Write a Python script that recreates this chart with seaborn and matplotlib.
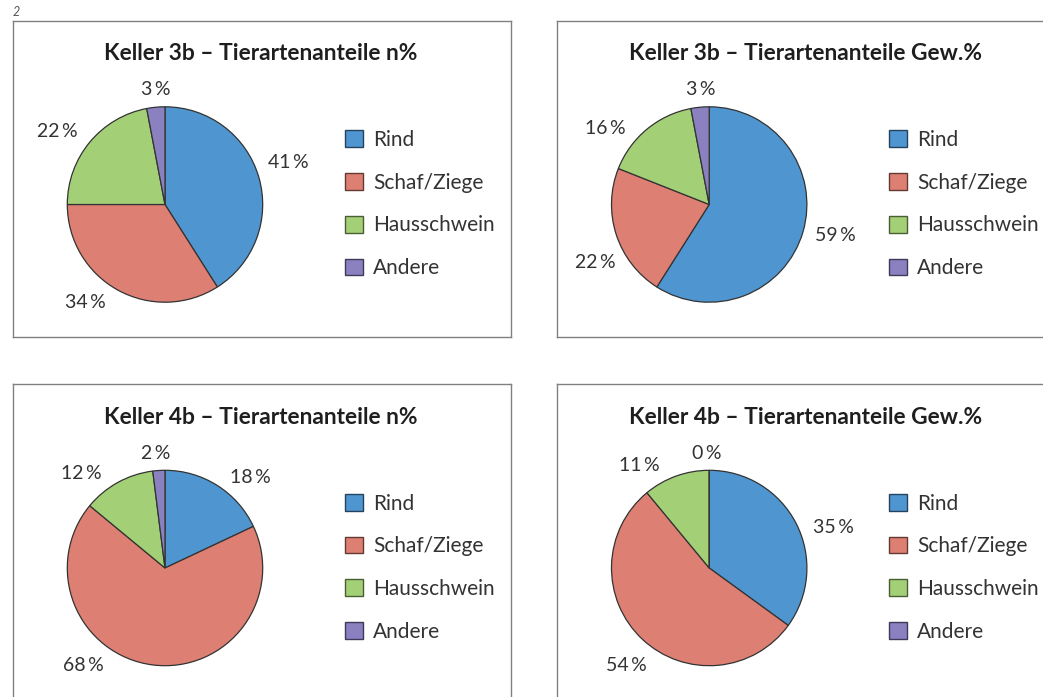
import numpy as np
import matplotlib
matplotlib.use("Agg")
import matplotlib.pyplot as plt
import matplotlib.colors as mcolors
from matplotlib.patches import Patch
import seaborn as sns

# ── Data ──────────────────────────────────────────────────────────────────────
CATEGORIES = ["Rind", "Schaf/Ziege", "Hausschwein", "Andere"]

K3B_N   = [41, 34, 22, 3]
K3B_GEW = [59, 22, 16, 3]
K4B_N   = [18, 68, 12, 2]
K4B_GEW = [35, 54, 11, 0]

TITLES = [
    "Keller 3b – Tierartenanteile n%",
    "Keller 3b – Tierartenanteile Gew.%",
    "Keller 4b – Tierartenanteile n%",
    "Keller 4b – Tierartenanteile Gew.%",
]
SERIES = [K3B_N, K3B_GEW, K4B_N, K4B_GEW]

# ── Layout (pixels on a 1043x697 canvas) ──────────────────────────────────────
W, H = 1043, 697
BOX_W, BOX_H = 498.7, 316.5
BOX_ORIGINS = [(12.5, 20.5), (556.7, 20.5), (12.5, 384.0), (556.7, 384.0)]
PIE_C   = (152.5, 184.0)   # pie centre relative to box top-left
PIE_R   = 97.7
TITLE_C = (248.5, 33.0)
LEG_XY  = (332.5, 109.5)   # legend top-left relative to box

# label centres in units of the pie radius (x right, y up), per wedge
LABEL_POS = [
    [(1.26, 0.43), (-0.82, -1.00), (-1.105, 0.744), (-0.092, 1.174)],
    [(1.295, -0.322), (-1.167, -0.589), (-1.064, 0.783), (-0.082, 1.172)],
    [(0.875, 0.931), (-0.834, -0.993), (-0.855, 0.972), (-0.092, 1.167)],
    [(1.269, 0.412), (-0.85, -1.003), (-0.711, 1.054), (-0.026, 1.17)],
]

# ── Style ─────────────────────────────────────────────────────────────────────
sns.set_theme(style="white")
plt.rcParams["font.family"] = ["Lato", "DejaVu Sans"]
PALETTE = sns.color_palette(["#4f95d0", "#de7f73", "#a3d076", "#8b80c0"])
TEXT_COL = "#333333"
EDGE_COL = "#333333"


def fx(x):
    return x / W


def fy(y):
    return 1 - y / H


def darker(c, f=0.45):
    r, g, b = mcolors.to_rgb(c)
    return (r * f, g * f, b * f)


fig = plt.figure(figsize=(W / 100, H / 100), dpi=100)
fig.text(fx(16), fy(12), "2", ha="center", va="center", fontsize=9,
         style="italic", color="#555555")

for i, (ox, oy) in enumerate(BOX_ORIGINS):
    # frame / background of the panel
    bg = fig.add_axes([fx(ox), fy(oy + BOX_H), BOX_W / W, BOX_H / H])
    bg.set_xticks([])
    bg.set_yticks([])
    for sp in bg.spines.values():
        sp.set_color("#808080")
        sp.set_linewidth(1.0)
    bg.set_facecolor("white")

    fig.text(fx(ox + TITLE_C[0]), fy(oy + TITLE_C[1]), TITLES[i],
             ha="center", va="center", fontsize=16.4, fontweight="bold",
             color="#1e1e1e")

    # pie
    cx, cy = ox + PIE_C[0], oy + PIE_C[1]
    half = 1.5 * PIE_R
    ax = fig.add_axes([fx(cx - half), fy(cy + half), 2 * half / W, 2 * half / H])
    vals = SERIES[i]
    ax.pie(vals, colors=PALETTE, startangle=90, counterclock=False,
           radius=1.0, normalize=True,
           wedgeprops=dict(edgecolor=EDGE_COL, linewidth=0.9))
    ax.set_xlim(-1.5, 1.5)
    ax.set_ylim(-1.5, 1.5)
    ax.set_aspect("equal")
    ax.axis("off")

    for v, (lx, ly) in zip(vals, LABEL_POS[i]):
        ax.text(lx, ly, f"{v}\u2009%", ha="center", va="center",
                fontsize=14, color=TEXT_COL)

    # legend
    handles = [Patch(facecolor=c, edgecolor=darker(c), linewidth=1.0)
               for c in PALETTE]
    bg.legend(handles, CATEGORIES, loc="upper left",
              bbox_to_anchor=(fx(ox + LEG_XY[0]), fy(oy + LEG_XY[1])),
              bbox_transform=fig.transFigure, frameon=False,
              fontsize=15, handlelength=0.864, handleheight=0.864,
              handletextpad=0.48, labelspacing=1.09, borderpad=0,
              borderaxespad=0, labelcolor=TEXT_COL)

fig.savefig("out.png", dpi=100)
